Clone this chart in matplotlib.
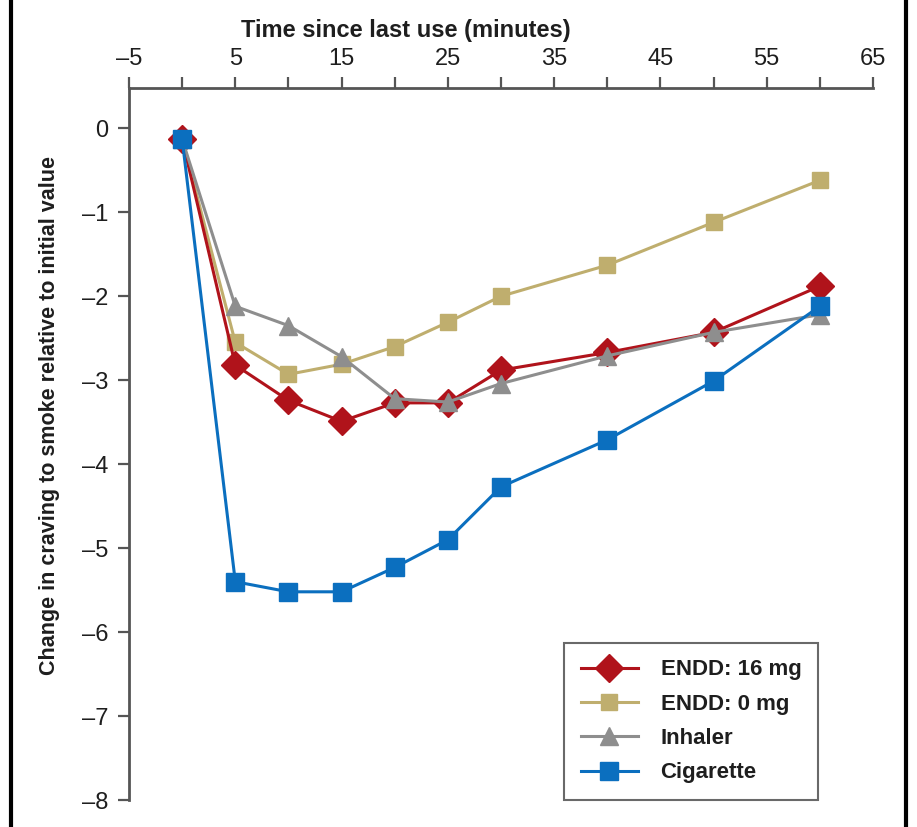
import matplotlib
matplotlib.use("Agg")
import matplotlib.pyplot as plt
from matplotlib.lines import Line2D

plt.rcParams['font.family'] = ['Liberation Sans', 'DejaVu Sans']

# minutes since last use
minutes = [0, 5, 10, 15, 20, 25, 30, 40, 50, 60]

# change in craving relative to initial value
endd_16mg = [-0.13, -2.82, -3.24, -3.49, -3.27, -3.27, -2.88, -2.67, -2.43, -1.88]
endd_0mg = [-0.13, -2.55, -2.93, -2.81, -2.60, -2.31, -2.00, -1.63, -1.12, -0.62]
inhaler = [-0.13, -2.12, -2.35, -2.72, -3.22, -3.26, -3.04, -2.71, -2.43, -2.22]
cigarette = [-0.13, -5.40, -5.52, -5.52, -5.23, -4.90, -4.27, -3.71, -3.01, -2.12]

x_ticks = [-5, 5, 15, 25, 35, 45, 55, 65]
x_minor = [0, 10, 20, 30, 40, 50, 60]
y_ticks = [0, -1, -2, -3, -4, -5, -6, -7, -8]

red = '#b0131b'
tan = '#bfae6e'
gray = '#8e8e8e'
blue = '#0b6fbf'
axis_col = '#555555'
txt_col = '#1e1e1e'

fig = plt.figure(figsize=(9.17, 8.27), dpi=100)
ax = fig.add_axes([0.1407, 0.0326, 0.8113, 0.861])

l_tan, = ax.plot(minutes, endd_0mg, color=tan, lw=2.2, marker='s', ms=12)
l_red, = ax.plot(minutes, endd_16mg, color=red, lw=2.2, marker='D', ms=14)
l_gray, = ax.plot(minutes, inhaler, color=gray, lw=2.2, marker='^', ms=13)
l_blue, = ax.plot(minutes, cigarette, color=blue, lw=2.2, marker='s', ms=12.5)

ax.set_xlim(-5, 65)
ax.set_ylim(-8, 0.48)

# x axis sits on top
ax.xaxis.set_ticks_position('top')
ax.xaxis.set_label_position('top')
ax.set_xticks(x_ticks)
ax.set_xticks(x_minor, minor=True)
ax.set_yticks(y_ticks)
ax.set_xticklabels([str(v).replace('-', '\u2013') for v in x_ticks])
ax.set_yticklabels([str(v).replace('-', '\u2013') for v in y_ticks])

for s in ['right', 'bottom']:
    ax.spines[s].set_visible(False)
for s in ['left', 'top']:
    ax.spines[s].set_color(axis_col)
    ax.spines[s].set_linewidth(2)

ax.tick_params(axis='both', which='both', direction='out', length=8, width=1.6,
               color=axis_col, labelsize=17, labelcolor=txt_col, pad=7)
ax.tick_params(axis='x', which='both', top=True, bottom=False, pad=5)

ax.set_xlabel('Time since last use (minutes)', fontsize=17, fontweight='bold',
              color=txt_col)
ax.xaxis.set_label_coords(0.372, 1.072)
ax.set_ylabel('Change in craving to smoke relative to initial value', fontsize=15.5,
              fontweight='bold', color=txt_col)
ax.yaxis.set_label_coords(-0.093, 0.54)

leg = ax.legend([l_red, l_tan, l_gray, l_blue],
                ['ENDD: 16 mg', 'ENDD: 0 mg', 'Inhaler', 'Cigarette'],
                loc='lower right', bbox_to_anchor=(0.926, 0.0), fontsize=16,
                frameon=True, fancybox=False, handlelength=2.6, borderpad=0.75,
                labelspacing=0.6, handletextpad=1.0, borderaxespad=0)
leg.get_frame().set_edgecolor('#444444')
leg.get_frame().set_linewidth(1.5)
for t in leg.get_texts():
    t.set_fontweight('bold')
    t.set_color(txt_col)

# page border on the left and right
fig.add_artist(Line2D([0.012, 0.012], [0, 1], transform=fig.transFigure,
                      color='black', lw=3))
fig.add_artist(Line2D([0.988, 0.988], [0, 1], transform=fig.transFigure,
                      color='black', lw=3))

fig.savefig('out.png', dpi=100)
